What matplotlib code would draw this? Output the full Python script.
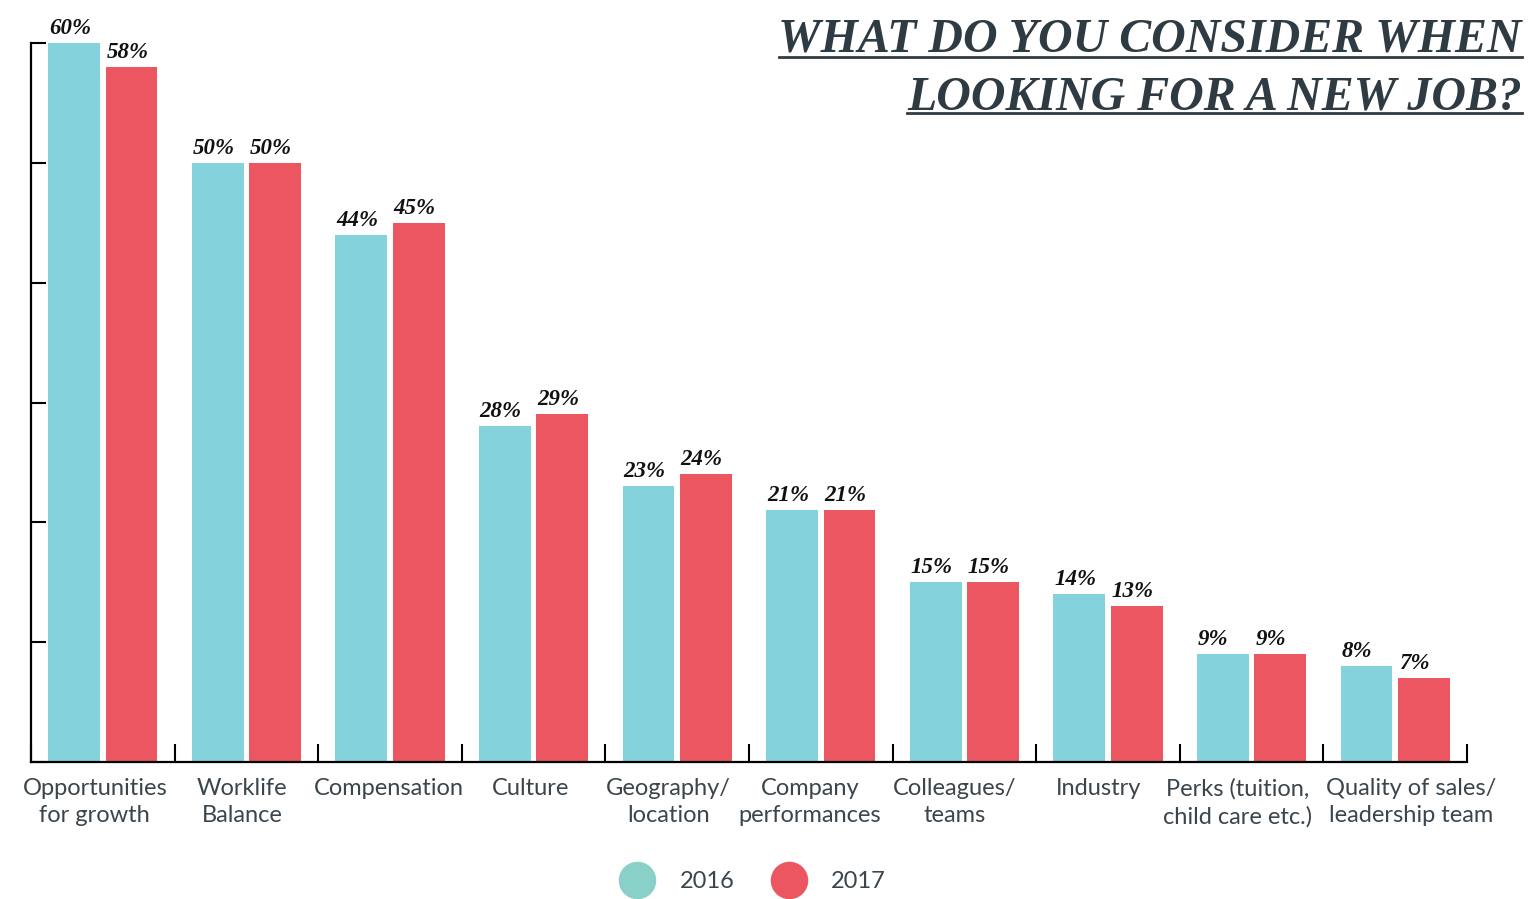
import numpy as np
import matplotlib.pyplot as plt
from matplotlib.lines import Line2D
from matplotlib.transforms import ScaledTranslation

## survey data
categories = ['Opportunities\nfor growth', 'Worklife\nBalance', 'Compensation', 'Culture',
              'Geography/\nlocation', 'Company\nperformances', 'Colleagues/\nteams', 'Industry',
              'Perks (tuition,\nchild care etc.)', 'Quality of sales/\nleadership team']
vals_2016 = [60, 50, 44, 28, 23, 21, 15, 14, 9, 8]
vals_2017 = [58, 50, 45, 29, 24, 21, 15, 13, 9, 7]
years = ['2016', '2017']

# small horizontal nudges (px) of the category labels, as in the original layout
label_shift = [-8, -4, -1, -3, -9, -11, -10, -9, -14, 16]

c16 = '#84d2db'
c17 = '#ec5661'
txt = '#3a454c'

fig = plt.figure(figsize=(15.33, 8.99), dpi=100)
ax = fig.add_axes([31/1533, 137/899, 1436/1533, 719/899])

x = np.arange(len(categories))
w = 0.36
b1 = ax.bar(x - 0.2, vals_2016, w, color=c16)
b2 = ax.bar(x + 0.2, vals_2017, w, color=c17)

# value labels, left aligned on each bar
for bars, vals in ((b1, vals_2016), (b2, vals_2017)):
    for b, v in zip(bars, vals):
        ax.annotate(f'{v}%', (b.get_x(), b.get_height()), xytext=(0.5, 3),
                    textcoords='offset points', ha='left', va='bottom',
                    family='Liberation Serif', weight='bold', style='italic',
                    fontsize=16.5, color='#111111', annotation_clip=False)

ax.set_xlim(-0.5, len(categories) - 0.5)
ax.set_ylim(0, 60)
ax.set_yticks(np.arange(0, 61, 10))
ax.set_yticklabels([])
ax.tick_params(axis='y', direction='in', length=11, width=1.5, color='black')
ax.set_xticks(x)
ax.set_xticklabels(categories, fontsize=17, family='Lato', color=txt, linespacing=1.35)
ax.tick_params(axis='x', which='major', length=0, pad=11.5)
for lab, dx in zip(ax.get_xticklabels(), label_shift):
    lab.set_transform(lab.get_transform() + ScaledTranslation(dx/100, 0, fig.dpi_scale_trans))
ax.set_xticks(np.arange(-0.5, len(categories)), minor=True)
ax.tick_params(axis='x', which='minor', direction='in', length=13, width=1.5, color='black')
for s in ['top', 'right']:
    ax.spines[s].set_visible(False)
for s in ['left', 'bottom']:
    ax.spines[s].set_linewidth(1.6)

# title, underlined
title_lines = ['WHAT DO YOU CONSIDER WHEN', 'LOOKING FOR A NEW JOB?']
fig.canvas.draw()
r = fig.canvas.get_renderer()
for i, line in enumerate(title_lines):
    t = fig.text(1522/1533, 1 - (40 + i*57)/899, line, ha='right', va='center',
                 family='Liberation Serif', weight='bold', style='italic',
                 fontsize=34.5, color='#2f3b43')
    bb = t.get_window_extent(renderer=r).transformed(fig.transFigure.inverted())
    yl = 1 - (57 + i*56)/899
    fig.add_artist(Line2D([bb.x0, bb.x1], [yl, yl], transform=fig.transFigure,
                          color='#2f3b43', lw=2))

handles = [Line2D([], [], ls='', marker='o', markersize=27, color=c, markeredgewidth=0)
           for c in ['#88d0c8', c17]]
fig.legend(handles, years, loc='center', bbox_to_anchor=(0.489, 0.019), ncol=2,
           frameon=False, prop={'family': 'Lato', 'size': 17}, labelcolor=txt,
           handletextpad=0.8, columnspacing=1.3)

fig.savefig('out.png', dpi=100)
